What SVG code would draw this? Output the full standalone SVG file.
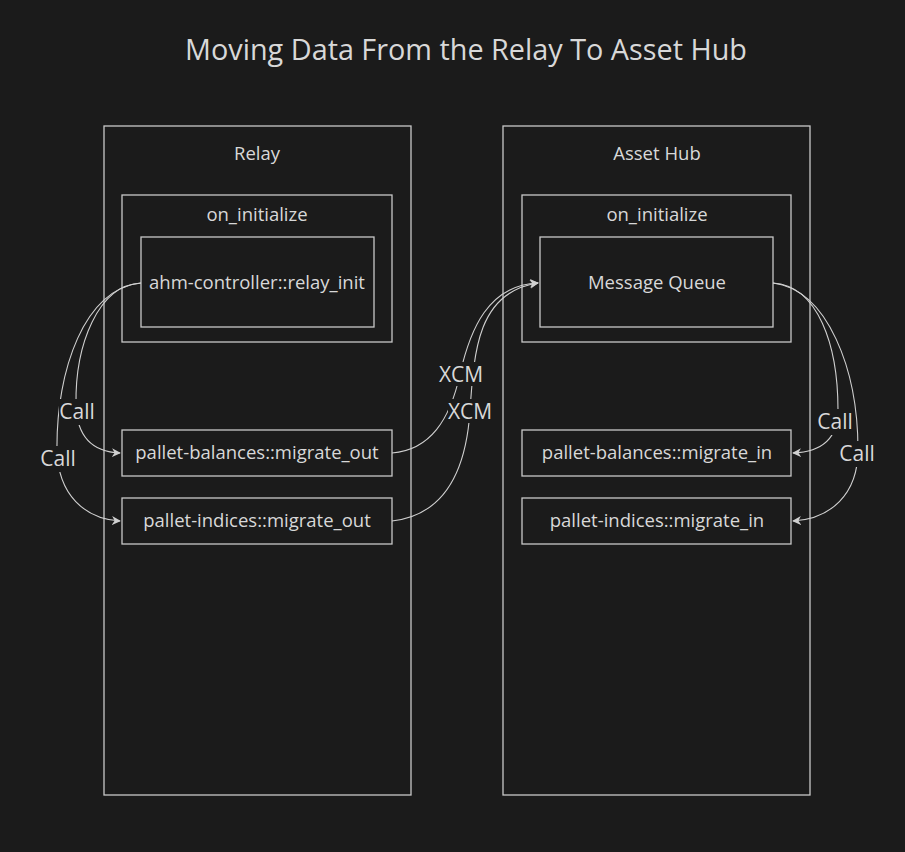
<svg xmlns="http://www.w3.org/2000/svg" width="905" height="852" viewBox="0 0 905 852">
<style>
text{font-family:"Open Sans","Noto Sans","Liberation Sans",sans-serif;fill:#d8d8d8;text-anchor:middle;}
.box{fill:none;stroke:#c8c8c8;stroke-width:1.3;}
.edge{fill:none;stroke:#d0d0d0;stroke-width:1.1;}
.lbl{fill:#1b1b1b;}
.t{font-size:18.5px;}
.el{font-size:21px;}
</style>
<defs>
<marker id="arr" viewBox="0 0 10 10" refX="9" refY="5" markerWidth="9" markerHeight="9" markerUnits="userSpaceOnUse" orient="auto">
<path d="M0,0 L10,5 L0,10 L3,5 z" fill="#d0d0d0"/>
</marker>
</defs>
<rect width="905" height="852" fill="#1b1b1b"/>
<text x="466" y="60" style="font-size:28.8px">Moving Data From the Relay To Asset Hub</text>

<g id="relay">
<rect class="box" x="104" y="126" width="307" height="669"/>
<text x="257" y="160" class="t">Relay</text>
</g>
<g id="relay_oninit">
<rect class="box" x="122" y="195" width="270" height="147"/>
<text x="257" y="221" class="t">on_initialize</text>
</g>
<g id="relay_init">
<rect class="box" x="141" y="237" width="233" height="90"/>
<text x="257" y="289" class="t">ahm-controller::relay_init</text>
</g>
<g id="balances_out">
<rect class="box" x="122" y="430" width="270" height="46"/>
<text x="257" y="459" class="t">pallet-balances::migrate_out</text>
</g>
<g id="indices_out">
<rect class="box" x="122" y="498" width="270" height="46"/>
<text x="257" y="527" class="t">pallet-indices::migrate_out</text>
</g>

<g id="assethub">
<rect class="box" x="503" y="126" width="307" height="669"/>
<text x="657" y="160" class="t">Asset Hub</text>
</g>
<g id="ah_oninit">
<rect class="box" x="522" y="195" width="269" height="147"/>
<text x="657" y="221" class="t">on_initialize</text>
</g>
<g id="message_queue">
<rect class="box" x="540" y="237" width="233" height="90"/>
<text x="657" y="289" class="t">Message Queue</text>
</g>
<g id="balances_in">
<rect class="box" x="522" y="430" width="269" height="46"/>
<text x="657" y="459" class="t">pallet-balances::migrate_in</text>
</g>
<g id="indices_in">
<rect class="box" x="522" y="498" width="269" height="46"/>
<text x="657" y="527" class="t">pallet-indices::migrate_in</text>
</g>

<g id="connectors">
<path class="edge" d="M141,283 C98,285 75,345 76,405 C77,440 95,452 120,453" marker-end="url(#arr)"/>
<path class="edge" d="M141,283 C85,288 56,370 57,450 C58,495 85,519 120,521" marker-end="url(#arr)"/>
<path class="edge" d="M392,453 C430,450 450,420 460,374 C470,330 488,285 538,283" marker-end="url(#arr)"/>
<path class="edge" d="M392,521 C445,515 466,470 470,411 C474,350 478,292 538,283" marker-end="url(#arr)"/>
<path class="edge" d="M773,283 C818,286 838,345 838,410 C838,440 820,452 793,453" marker-end="url(#arr)"/>
<path class="edge" d="M773,283 C828,290 858,370 858,450 C858,495 830,519 793,521" marker-end="url(#arr)"/>

<rect class="lbl" x="59" y="399" width="36" height="26"/>
<text x="77" y="419" class="el">Call</text>
<rect class="lbl" x="40" y="446" width="36" height="26"/>
<text x="58" y="466" class="el">Call</text>
<rect class="lbl" x="439" y="362" width="45" height="24"/>
<text x="461" y="382" class="el">XCM</text>
<rect class="lbl" x="448" y="399" width="45" height="24"/>
<text x="470" y="419" class="el">XCM</text>
<rect class="lbl" x="817" y="409" width="36" height="26"/>
<text x="835" y="429" class="el">Call</text>
<rect class="lbl" x="839" y="441" width="36" height="26"/>
<text x="857" y="461" class="el">Call</text>
</g>
</svg>
